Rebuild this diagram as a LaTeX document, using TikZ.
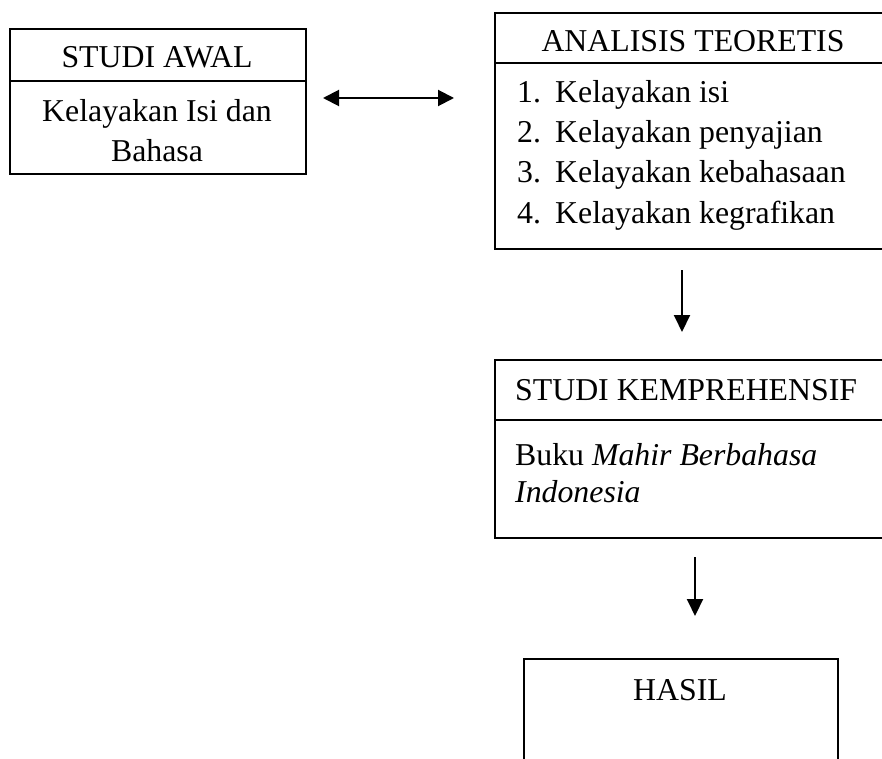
\documentclass[tikz,border=0pt]{standalone}
\usepackage{fontspec}
\setmainfont{Liberation Serif}
\usetikzlibrary{arrows.meta}
\tikzset{
  box/.style={draw, line width=2pt, rectangle, inner sep=0pt, anchor=north west},
  divider/.style={line width=2pt},
  txt/.style={inner sep=0pt, anchor=base, font=\fontsize{31.8}{40}\selectfont},
  txtl/.style={txt, anchor=base west},
  conn/.style={line width=2pt, -{Triangle[length=17pt,width=16pt]}},
  conn2/.style={line width=2pt, {Triangle[length=16pt,width=16pt]}-{Triangle[length=16pt,width=16pt]}}
}
\begin{document}
\begin{tikzpicture}[x=1pt,y=-1pt]
\clip (0,0) rectangle (882,759);
\fill[white] (0,0) rectangle (882,759);
% STUDI AWAL box
\node[box, minimum width=296pt, minimum height=145pt] (awal) at (9,28) {};
\draw[divider] (9,81) -- (305,81);
\node[txt] (awalT) at (157,68) {STUDI AWAL};
\node[txt] (awal1) at (157,122) {Kelayakan Isi dan};
\node[txt] (awal2) at (157,162) {Bahasa};
% ANALISIS TEORETIS box
\node[box, minimum width=420pt, minimum height=236pt] (teo) at (494,12) {};
\draw[divider] (494,63) -- (900,63);
\node[txt] (teoT) at (693,52) {ANALISIS TEORETIS};
\node[txtl] (n1) at (517,103) {1.};
\node[txtl] (t1) at (555,103) {Kelayakan isi};
\node[txtl] (n2) at (517,143) {2.};
\node[txtl] (t2) at (555,143) {Kelayakan penyajian};
\node[txtl] (n3) at (517,183) {3.};
\node[txtl] (t3) at (555,183) {Kelayakan kebahasaan};
\node[txtl] (n4) at (517,223) {4.};
\node[txtl] (t4) at (555,223) {Kelayakan kegrafikan};
% STUDI KEMPREHENSIF box
\node[box, minimum width=420pt, minimum height=178pt] (kom) at (494,359) {};
\draw[divider] (494,420) -- (900,420);
\node[txtl] (komT) at (515,400) {STUDI KEMPREHENSIF};
\node[txtl] (kom1) at (515,465) {Buku \textit{Mahir Berbahasa}};
\node[txtl] (kom2) at (515,502) {\textit{Indonesia}};
% HASIL box
\node[box, minimum width=314pt, minimum height=140pt] (hasil) at (523,658) {};
\node[txt] (hasilT) at (680,700) {HASIL};
% connectors
\coordinate (da) at (323,98);
\coordinate (db) at (454,98);
\draw[conn2] (da) -- (db);
\coordinate (a1s) at (682,270);
\coordinate (a1e) at (682,332);
\draw[conn] (a1s) -- (a1e);
\coordinate (a2s) at (695,557);
\coordinate (a2e) at (695,616);
\draw[conn] (a2s) -- (a2e);
\end{tikzpicture}
\end{document}
